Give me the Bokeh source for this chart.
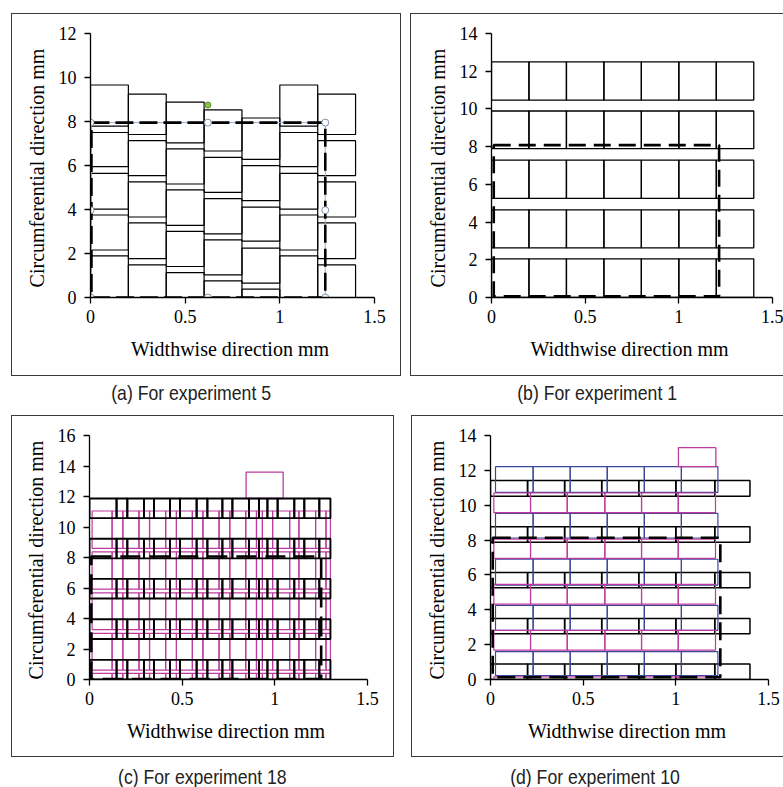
from bokeh.plotting import figure
from bokeh.layouts import column, row, Spacer
from bokeh.models import Range1d, FixedTicker, CustomJSTickFormatter, Div
from bokeh.embed import file_html
from bokeh.resources import INLINE

SERIF = "Liberation Serif"
MAGENTA = "#BF3A9F"
BLUE = "#3D4895"

X_TICKS = [0, 0.5, 1, 1.5]
X_LABEL = "Widthwise direction  mm"
Y_LABEL = "Circumferential direction  mm"
CAPTIONS = ["(a) For experiment 5", "(b) For experiment 1",
            "(c) For experiment 18", "(d) For experiment 10"]

# ---------------- (a) experiment 5 ----------------
A_X_EDGES = [0, 0.2, 0.4, 0.6, 0.8, 1.0, 1.2, 1.4]
A_BOTTOMS = [
    [0, 2.16, 4.02, 5.95, 7.79],
    [0, 1.77, 3.66, 5.54, 7.41],
    [0, 1.41, 3.28, 5.16, 7.03],
    [0, 1.03, 2.89, 4.78, 6.66],
    [0, 0.65, 2.56, 4.40, 6.28],
    [0, 2.16, 4.02, 5.95, 7.79],
    [0, 1.77, 3.66, 5.54, 7.41],
]
A_TOPS = [
    [1.89, 3.75, 5.64, 7.50, 9.66],
    [1.48, 3.39, 5.26, 7.13, 9.24],
    [1.13, 3.01, 4.89, 6.76, 8.88],
    [0.76, 2.62, 4.49, 6.37, 8.53],
    [0.38, 2.24, 4.11, 5.99, 8.16],
    [1.89, 3.75, 5.64, 7.50, 9.66],
    [1.48, 3.39, 5.26, 7.13, 9.24],
]
A_DASH = [0.005, 1.24, 0.0, 7.95]          # left, right, bottom, top
A_HANDLE_X = [0, 0.62, 1.24, 0, 1.24, 0, 0.62, 1.24]
A_HANDLE_Y = [7.95, 7.95, 7.95, 3.97, 3.97, 0, 0, 0]
A_ROTATE_X = [0.62]
A_ROTATE_Y = [8.75]

# ---------------- (b) experiment 1 ----------------
B_X_EDGES = [0, 0.2, 0.4, 0.6, 0.8, 1.0, 1.2, 1.4]
B_ROWS = [(0, 2.05), (2.63, 4.65), (5.26, 7.28), (7.89, 9.89), (10.47, 12.49)]
B_DASH = [0.012, 1.215, 0.06, 8.08]

# ---------------- (c) experiment 18 ----------------
C_BLACK_ROWS = [(0, 1.29), (2.66, 3.95), (5.31, 6.60), (7.94, 9.23), (10.58, 11.87)]
C_BLACK_X = [0, 0.146, 0.204, 0.294, 0.348, 0.434, 0.488, 0.578, 0.636, 0.717,
             0.771, 0.861, 0.915, 0.96, 1.015, 1.105, 1.159, 1.24, 1.30]
C_MAG_ROWS = [(0, 0.40), (0.62, 3.03), (3.27, 5.68), (5.92, 8.37), (8.60, 11.05)]
C_MAG_X = [0.014, 0.122, 0.180, 0.267, 0.324, 0.411, 0.469, 0.555, 0.612, 0.699,
           0.757, 0.843, 0.901, 0.933, 0.988, 1.08, 1.13, 1.22, 1.276, 1.30]
C_MAG_TOP = [0.845, 1.045, 11.87, 13.6]
C_DASH = [0.01, 1.25, 0.03, 8.07]

# ---------------- (d) experiment 10 ----------------
D_BLACK_ROWS = [(0, 0.89), (2.62, 3.50), (5.27, 6.14), (7.88, 8.76), (10.51, 11.42)]
D_BLACK_X = [0, 0.2, 0.4, 0.6, 0.8, 1.0, 1.21, 1.4]
D_BLUE_ROWS = [(0.23, 1.60), (2.82, 4.25), (5.42, 6.90), (8.12, 9.53), (10.74, 12.21)]
D_BLUE_X = [0.027, 0.23, 0.43, 0.63, 0.83, 1.03, 1.227]
D_MAG_ROWS = [(0, 0.15), (1.68, 2.82), (4.33, 5.46), (6.95, 8.06), (9.57, 10.70)]
D_MAG_X = [0.018, 0.216, 0.414, 0.617, 0.815, 1.013, 1.214]
D_MAG_TOP = [1.014, 1.216, 12.21, 13.3]
D_DASH = [0.012, 1.24, 0.13, 8.13]


def bricks(rows, edges):
    L, R, B, T = [], [], [], []
    for (b, t) in rows:
        for i in range(len(edges) - 1):
            L.append(edges[i]); R.append(edges[i + 1]); B.append(b); T.append(t)
    return dict(left=L, right=R, bottom=B, top=T)


def columns(edges, bottoms, tops):
    L, R, B, T = [], [], [], []
    for i in range(len(edges) - 1):
        for b, t in zip(bottoms[i], tops[i]):
            L.append(edges[i]); R.append(edges[i + 1]); B.append(b); T.append(t)
    return dict(left=L, right=R, bottom=B, top=T)


def make_panel(width, height, ymax, borders):
    left, right, top, bottom = borders
    p = figure(width=width, height=height, output_backend="svg", toolbar_location=None,
               x_range=Range1d(0, 1.5), y_range=Range1d(0, ymax),
               min_border_left=left, min_border_right=right,
               min_border_top=top, min_border_bottom=bottom,
               x_axis_label=X_LABEL, y_axis_label=Y_LABEL)
    p.grid.visible = False
    p.outline_line_color = None
    p.background_fill_color = "white"
    p.border_fill_color = "white"
    p.styles = {"box-shadow": "0 0 0 1px #3a3a3a"}
    fmt = CustomJSTickFormatter(code="return String(tick)")
    p.xaxis.ticker = FixedTicker(ticks=X_TICKS)
    p.yaxis.ticker = FixedTicker(ticks=list(range(0, ymax + 1, 2)))
    for ax in (p.xaxis[0], p.yaxis[0]):
        ax.formatter = fmt
        ax.axis_line_color = "black"
        ax.axis_line_width = 1.3
        ax.major_tick_line_color = "black"
        ax.major_tick_line_width = 1.3
        ax.major_tick_out = 6
        ax.major_tick_in = 0
        ax.minor_tick_out = 0
        ax.minor_tick_in = 0
        ax.major_label_text_font = SERIF
        ax.major_label_text_font_size = "18px"
        ax.major_label_text_color = "black"
        ax.axis_label_text_font = SERIF
        ax.axis_label_text_font_size = "20px"
        ax.axis_label_text_font_style = "normal"
        ax.axis_label_text_color = "black"
    p.xaxis.major_label_standoff = 6
    p.xaxis.axis_label_standoff = 12
    p.yaxis.major_label_standoff = 8
    p.yaxis.axis_label_standoff = 8
    return p


def dashed(p, box, dash):
    l, r, b, t = box
    p.quad(left=[l], right=[r], bottom=[b], top=[t], fill_color=None,
           line_color="black", line_width=2.6, line_dash=dash)


# ---- panel a
pa = make_panel(388, 361, 12, (78, 26, 19, 77))
pa.quad(**columns(A_X_EDGES, A_BOTTOMS, A_TOPS), fill_color=None,
        line_color="black", line_width=1.2)
pa.quad(left=[A_DASH[0]], right=[A_DASH[1]], bottom=[A_DASH[2]], top=[A_DASH[3]],
        fill_color=None, line_color="#8fb0d8", line_width=1)
dashed(pa, A_DASH, "18 6")
pa.scatter(A_HANDLE_X, A_HANDLE_Y, size=7, fill_color="white", line_color="#7f93ad", line_width=1)
pa.scatter(A_ROTATE_X, A_ROTATE_Y, size=6, fill_color="#8cc63f", line_color="#5a8a2a", line_width=1)

# ---- panel b
pb = make_panel(372, 361, 14, (80, 11, 17, 78))
pb.quad(**bricks(B_ROWS, B_X_EDGES), fill_color=None, line_color="black", line_width=1.3)
dashed(pb, B_DASH, "17 8")

# ---- panel c
pc = make_panel(381, 340, 16, (77, 26, 19, 73))
pc.quad(**bricks(C_MAG_ROWS, C_MAG_X), fill_color=None, line_color=MAGENTA, line_width=1.2)
pc.quad(left=[C_MAG_TOP[0]], right=[C_MAG_TOP[1]], bottom=[C_MAG_TOP[2]], top=[C_MAG_TOP[3]],
        fill_color=None, line_color=MAGENTA, line_width=1.3)
pc.quad(**bricks(C_BLACK_ROWS, C_BLACK_X), fill_color=None, line_color="black", line_width=1.9)
dashed(pc, C_DASH, "20 9")

# ---- panel d
pd_ = make_panel(371, 340, 14, (78, 15, 16, 77))
pd_.quad(**bricks(D_BLACK_ROWS, D_BLACK_X), fill_color=None, line_color="black", line_width=1.5)
pd_.quad(**bricks(D_BLUE_ROWS, D_BLUE_X), fill_color=None, line_color=BLUE, line_width=1.2)
pd_.quad(**bricks(D_MAG_ROWS, D_MAG_X), fill_color=None, line_color=MAGENTA, line_width=1.2)
pd_.quad(left=[D_MAG_TOP[0]], right=[D_MAG_TOP[1]], bottom=[D_MAG_TOP[2]], top=[D_MAG_TOP[3]],
         fill_color=None, line_color=MAGENTA, line_width=1.3)
dashed(pd_, D_DASH, "18 8")


def caption(text, width, height, pad_top, shift=0):
    html = ('<div style="font-family:\'Liberation Sans\',sans-serif;'
            'font-size:21px;line-height:24px;color:#222;text-align:center;'
            f'padding-top:{pad_top}px;width:{width}px;">'
            '<span style="display:inline-block;transform-origin:center;'
            f'transform:translateX({shift}px) scaleX(0.84);">{text}</span></div>')
    return Div(text=html, width=width, height=height, margin=0)


layout = column(
    Spacer(width=783, height=14),
    row(Spacer(width=12, height=361), pa, Spacer(width=11, height=361), pb),
    row(Spacer(width=12, height=41), caption(CAPTIONS[0], 388, 41, 6, -15),
        Spacer(width=11, height=41), caption(CAPTIONS[1], 372, 41, 6)),
    row(Spacer(width=12, height=340), pc, Spacer(width=19, height=340), pd_),
    row(Spacer(width=12, height=31), caption(CAPTIONS[2], 381, 31, 9),
        Spacer(width=19, height=31), caption(CAPTIONS[3], 371, 31, 9, -3)),
)

open("out.html", "w").write(file_html(layout, INLINE))
